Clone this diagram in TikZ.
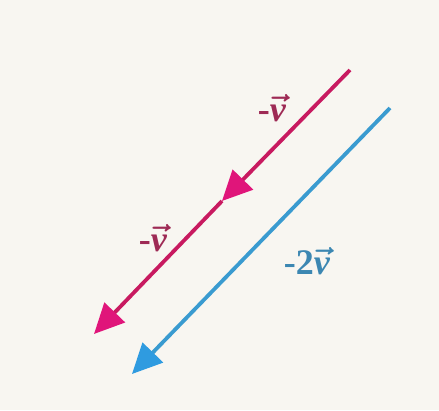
\RequirePackage{fix-cm}
\documentclass[tikz,border=0pt]{standalone}
\usepackage{amsmath}
\usepackage{fontspec}
\setmainfont{Liberation Serif}
\usetikzlibrary{arrows.meta}
\definecolor{bg}{HTML}{F8F6F1}
\definecolor{pinkline}{HTML}{C81A60}
\definecolor{pinkhead}{HTML}{E0157A}
\definecolor{pinktext}{HTML}{9E2A55}
\definecolor{blueline}{HTML}{3A9BD0}
\definecolor{bluehead}{HTML}{2F9BE0}
\definecolor{bluetext}{HTML}{3C87B2}
\newcommand{\vv}{$\boldsymbol{\vec{\mbox{\textbf{\textit{v}}}}}$}
\tikzset{
  pinkvec/.style={draw=pinkline,line width=3.8pt,-{Triangle[length=30pt,width=28pt,fill=pinkhead,color=pinkhead]}},
  bluevec/.style={draw=blueline,line width=3.8pt,-{Triangle[length=30pt,width=28pt,fill=bluehead,color=bluehead]}},
  lbl/.style={font=\fontsize{36}{36}\selectfont\bfseries}
}
\begin{document}
\begin{tikzpicture}[x=1pt,y=-1pt]
\fill[bg] (0,0) rectangle (439,410);
\useasboundingbox (0,0) rectangle (439,410);
\coordinate (a) at (350,70);
\coordinate (m) at (222,201);
\coordinate (b) at (94,334);
\coordinate (c) at (390,108);
\coordinate (d) at (132,374);
\draw[pinkvec] (a) -- (m);
\draw[pinkvec] (m) -- (b);
\draw[bluevec] (c) -- (d);
\node[lbl,text=pinktext] (l1) at (272,108) {-\vv};
\node[lbl,text=pinktext] (l2) at (153,238) {-\vv};
\node[lbl,text=bluetext] (l3) at (307,261) {-2\vv};
\end{tikzpicture}
\end{document}
